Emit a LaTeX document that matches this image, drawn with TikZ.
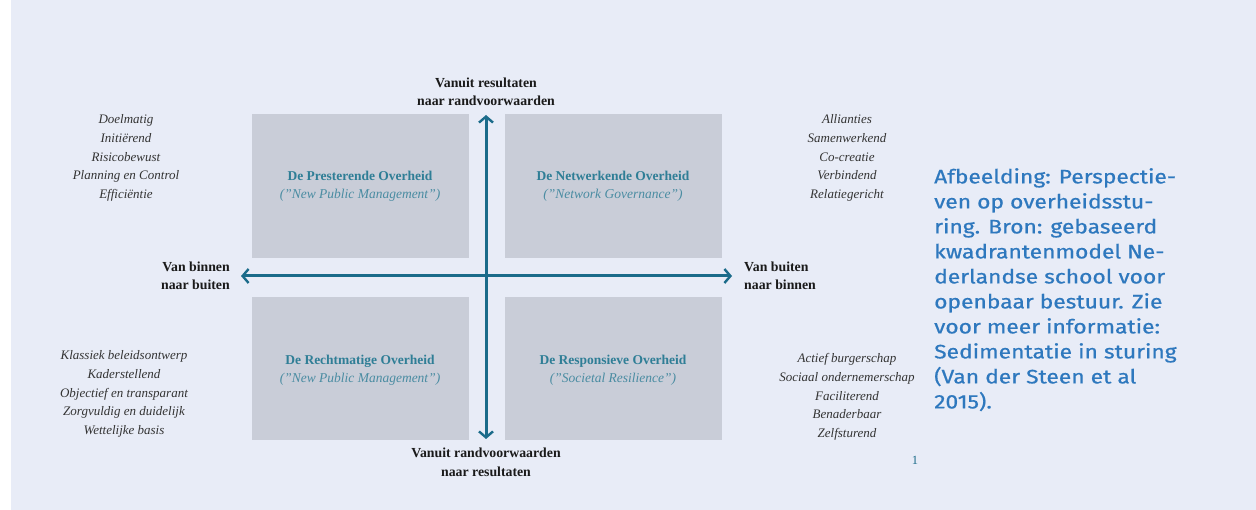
\documentclass[tikz,border=0pt]{standalone}
\usepackage{fontspec}
\setmainfont{Liberation Serif}
\newfontfamily\capfont[FakeStretch=1.17,FakeBold=0.7]{Fira Sans}
\usetikzlibrary{arrows.meta}
\definecolor{bgc}{HTML}{E8ECF7}
\definecolor{boxc}{HTML}{C9CDD8}
\definecolor{axisc}{HTML}{1B6B8A}
\definecolor{titlec}{HTML}{2F7E96}
\definecolor{subc}{HTML}{4A8CA2}
\definecolor{listc}{HTML}{333333}
\definecolor{labc}{HTML}{1A1A1A}
\definecolor{capc}{HTML}{2E78BE}
\tikzset{
  quad/.style={fill=boxc, draw=none, minimum width=217pt, minimum height=144pt, inner sep=0pt},
  qtitle/.style={align=center, font=\fontsize{13.5}{18}\selectfont, inner sep=0pt},
  axlab/.style={font=\bfseries\fontsize{13.8}{18}\selectfont, color=labc, inner sep=0pt},
  plist/.style={align=center, font=\itshape\fontsize{13}{18.7}\selectfont, color=listc, inner sep=0pt},
  axis/.style={draw=axisc, line width=3pt, {Straight Barb[length=6pt,width=14pt,line width=2.4pt]}-{Straight Barb[length=6pt,width=14pt,line width=2.4pt]}}
}
\begin{document}
\begin{tikzpicture}[x=1pt,y=-1pt]
\useasboundingbox (0,0) rectangle (1256,510);
\fill[white] (0,0) rectangle (1256,510);
\fill[bgc] (11,0) rectangle (1256,510);
% quadrants
\node[quad, minimum height=144pt, anchor=north west] (q1) at (252,114) {};
\node[quad, minimum height=144pt, anchor=north west] (q2) at (505,114) {};
\node[quad, minimum height=143pt, anchor=north west] (q3) at (252,297) {};
\node[quad, minimum height=143pt, anchor=north west] (q4) at (505,297) {};
\node[qtitle] (t1) at (360,186) {\textcolor{titlec}{\textbf{De Presterende Overheid}}\\\textcolor{subc}{\textit{("New Public Management")}}};
\node[qtitle] (t2) at (613,186) {\textcolor{titlec}{\textbf{De Netwerkende Overheid}}\\\textcolor{subc}{\textit{("Network Governance")}}};
\node[qtitle] (t3) at (360,370) {\textcolor{titlec}{\textbf{De Rechtmatige Overheid}}\\\textcolor{subc}{\textit{("New Public Management")}}};
\node[qtitle] (t4) at (613,370) {\textcolor{titlec}{\textbf{De Responsieve Overheid}}\\\textcolor{subc}{\textit{("Societal Resilience")}}};
% axes
\coordinate (top) at (486,115);
\coordinate (bot) at (486,439);
\coordinate (lft) at (241,276);
\coordinate (rgt) at (732,276);
\draw[axis] (bot) -- (top);
\draw[axis] (lft) -- (rgt);
% axis labels
\node[axlab, align=center] (lt1) at (486,83) {Vanuit resultaten};
\node[axlab, align=center] (lt2) at (486,101) {naar randvoorwaarden};
\node[axlab, align=center] (lb1) at (486,453) {Vanuit randvoorwaarden};
\node[axlab, align=center] (lb2) at (486,472) {naar resultaten};
\node[axlab, anchor=east] (ll1) at (230,267) {Van binnen};
\node[axlab, anchor=east] (ll2) at (230,285) {naar buiten};
\node[axlab, anchor=west] (lr1) at (744,267) {Van buiten};
\node[axlab, anchor=west] (lr2) at (744,285) {naar binnen};
% property lists
\node[plist] (p1) at (126,158) {Doelmatig\\Initiërend\\Risicobewust\\Planning en Control\\Efficiëntie};
\node[plist] (p2) at (847,158) {Allianties\\Samenwerkend\\Co-creatie\\Verbindend\\Relatiegericht};
\node[plist] (p3) at (124,394) {Klassiek beleidsontwerp\\Kaderstellend\\Objectief en transparant\\Zorgvuldig en duidelijk\\Wettelijke basis};
\node[plist] (p4) at (847,397) {Actief burgerschap\\Sociaal ondernemerschap\\Faciliterend\\Benaderbaar\\Zelfsturend};
\node[font=\fontsize{12.5}{14}\selectfont, color=axisc, inner sep=0pt] (pn) at (915,460) {1};
% caption
\node[anchor=north west, align=left, inner sep=0pt, color=capc, font=\capfont\fontsize{19.5}{25}\selectfont] (cap) at (934,168)
{Afbeelding: Perspectie-\\ven op overheidsstu-\\ring. Bron: gebaseerd\\kwadrantenmodel Ne-\\derlandse school voor\\openbaar bestuur. Zie\\voor meer informatie:\\Sedimentatie in sturing\\(Van der Steen et al\\2015).};
\end{tikzpicture}
\end{document}
